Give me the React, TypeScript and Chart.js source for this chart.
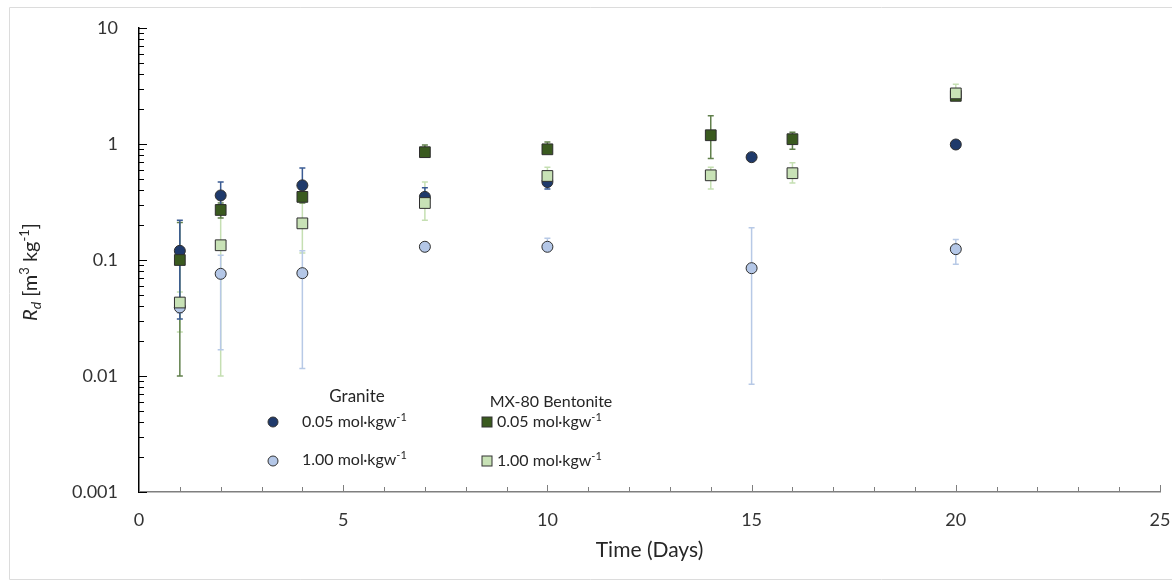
import React, { useEffect, useRef } from "react";
import { Chart, registerables } from "chart.js";

Chart.register(...registerables);

// ---------- data ----------
const graniteDays = [1, 2, 4, 7, 10, 15, 20];
const bentoniteDays = [1, 2, 4, 7, 10, 14, 16, 20];

const granite005 = [0.12, 0.36, 0.44, 0.35, 0.47, 0.77, 0.99];
const granite005Low = [0.031, 0.3, 0.38, 0.29, 0.41, 0.74, 0.95];
const granite005High = [0.22, 0.47, 0.62, 0.42, 0.53, 0.8, 1.04];

const granite100 = [0.039, 0.076, 0.077, 0.13, 0.13, 0.085, 0.124];
const granite100Low = [0.035, 0.0168, 0.0116, 0.12, 0.125, 0.0085, 0.092];
const granite100High = [0.044, 0.11, 0.12, 0.14, 0.154, 0.19, 0.15];

const bentonite005 = [0.1, 0.27, 0.35, 0.85, 0.9, 1.19, 1.1, 2.6];
const bentonite005Low = [0.01, 0.23, 0.31, 0.78, 0.84, 0.75, 0.9, 2.4];
const bentonite005High = [0.21, 0.31, 0.39, 0.98, 1.04, 1.75, 1.26, 2.8];

const bentonite100 = [0.043, 0.134, 0.207, 0.31, 0.53, 0.537, 0.56, 2.73];
const bentonite100Low = [0.024, 0.01, 0.115, 0.22, 0.44, 0.41, 0.46, 2.4];
const bentonite100High = [0.053, 0.25, 0.33, 0.47, 0.63, 0.63, 0.69, 3.27];

const yTickValues = [0.001, 0.01, 0.1, 1, 10];
const xMin = 0;
const xMax = 25;

const seriesLabels = ["0.05 mol·kgw", "1.00 mol·kgw"];
const groupLabels = ["Granite", "MX-80 Bentonite"];

// ---------- styles ----------
const FONT = "Lato, 'Open Sans', sans-serif";
const DARK_BLUE = "#1f3a6b";
const LIGHT_BLUE = "#b4c7e7";
const DARK_GREEN = "#3a5a1f";
const LIGHT_GREEN = "#c8e2b6";

type Seg = { t: string; size: number; italic?: boolean; dy?: number };

function drawRich(ctx: CanvasRenderingContext2D, segs: Seg[], x: number, y: number, align: "left" | "center") {
  let total = 0;
  const widths = segs.map((s) => {
    ctx.font = `${s.italic ? "italic " : ""}${s.size}px ${FONT}`;
    const w = ctx.measureText(s.t).width;
    total += w;
    return w;
  });
  let cx = align === "center" ? x - total / 2 : x;
  ctx.textAlign = "left";
  ctx.textBaseline = "alphabetic";
  segs.forEach((s, i) => {
    ctx.font = `${s.italic ? "italic " : ""}${s.size}px ${FONT}`;
    ctx.fillText(s.t, cx, y + (s.dy || 0));
    cx += widths[i];
  });
}

const toPoints = (days: number[], vals: number[]) => days.map((d, i) => ({ x: d, y: vals[i] }));

const errorBarPlugin = {
  id: "errorBars",
  beforeDatasetsDraw(chart: any) {
    const { ctx, scales } = chart;
    const xs = scales.x;
    const ys = scales.y;
    ctx.save();
    chart.data.datasets.forEach((ds: any) => {
      ctx.strokeStyle = ds.errColor;
      ctx.lineWidth = 1.5;
      ds.data.forEach((p: any, i: number) => {
        const px = xs.getPixelForValue(p.x);
        const y1 = ys.getPixelForValue(ds.errLow[i]);
        const y2 = ys.getPixelForValue(ds.errHigh[i]);
        ctx.beginPath();
        ctx.moveTo(px, y1);
        ctx.lineTo(px, y2);
        ctx.moveTo(px - 3, y1);
        ctx.lineTo(px + 3, y1);
        ctx.moveTo(px - 3, y2);
        ctx.lineTo(px + 3, y2);
        ctx.stroke();
      });
    });
    ctx.restore();
  },
  afterDraw(chart: any) {
    const { ctx, scales, chartArea } = chart;
    const xs = scales.x;
    const ys = scales.y;
    ctx.save();
    // outer frame
    ctx.strokeStyle = "#dcdcdc";
    ctx.lineWidth = 1;
    ctx.beginPath();
    ctx.moveTo(1172, 7.5);
    ctx.lineTo(9.5, 7.5);
    ctx.lineTo(9.5, 579.5);
    ctx.lineTo(1172, 579.5);
    ctx.stroke();

    // x ticks (inward)
    ctx.strokeStyle = "#7f7f7f";
    ctx.lineWidth = 1;
    for (let d = xMin; d <= xMax; d++) {
      const px = Math.round(xs.getPixelForValue(d)) + 0.5;
      const len = d % 5 === 0 ? 7 : 5;
      ctx.beginPath();
      ctx.moveTo(px, chartArea.bottom);
      ctx.lineTo(px, chartArea.bottom - len);
      ctx.stroke();
    }
    // y ticks (inward)
    ctx.strokeStyle = "#000";
    for (let k = 0; k < yTickValues.length; k++) {
      const dec = yTickValues[k];
      const py = Math.round(ys.getPixelForValue(dec)) + 0.5;
      ctx.beginPath();
      ctx.moveTo(chartArea.left, py);
      ctx.lineTo(chartArea.left + 8, py);
      ctx.stroke();
      if (k < yTickValues.length - 1) {
        for (let m = 2; m <= 9; m++) {
          const pm = Math.round(ys.getPixelForValue(dec * m)) + 0.5;
          ctx.beginPath();
          ctx.moveTo(chartArea.left, pm);
          ctx.lineTo(chartArea.left + 5, pm);
          ctx.stroke();
        }
      }
    }

    // y title
    ctx.fillStyle = "#262626";
    ctx.save();
    ctx.translate(37, 272);
    ctx.rotate(-Math.PI / 2);
    drawRich(
      ctx,
      [
        { t: "R", size: 20, italic: true },
        { t: "d", size: 14, italic: true, dy: 4 },
        { t: " [m", size: 20 },
        { t: "3", size: 13, dy: -8 },
        { t: " kg", size: 20 },
        { t: "-1", size: 13, dy: -8 },
        { t: "]", size: 20 },
      ],
      0,
      0,
      "center"
    );
    ctx.restore();

    // legend
    ctx.fillStyle = "#262626";
    drawRich(ctx, [{ t: groupLabels[0], size: 17 }], 357, 402, "center");
    drawRich(ctx, [{ t: groupLabels[1], size: 16 }], 551, 407, "center");

    const circle = (x: number, y: number, fill: string) => {
      ctx.beginPath();
      ctx.arc(x, y, 5, 0, Math.PI * 2);
      ctx.fillStyle = fill;
      ctx.fill();
      ctx.strokeStyle = "#333";
      ctx.lineWidth = 1;
      ctx.stroke();
    };
    const square = (x: number, y: number, fill: string) => {
      ctx.fillStyle = fill;
      ctx.fillRect(x - 5, y - 5, 10, 10);
      ctx.strokeStyle = "#333";
      ctx.lineWidth = 1;
      ctx.strokeRect(x - 5, y - 5, 10, 10);
    };
    circle(273, 422, DARK_BLUE);
    circle(273, 461, LIGHT_BLUE);
    square(487, 422, DARK_GREEN);
    square(487, 461, LIGHT_GREEN);

    ctx.fillStyle = "#262626";
    const lbl = (txt: string, x: number, y: number) =>
      drawRich(ctx, [{ t: txt, size: 16 }, { t: "-1", size: 11, dy: -6 }], x, y, "left");
    lbl(seriesLabels[0], 302, 427);
    lbl(seriesLabels[1], 302, 465);
    lbl(seriesLabels[0], 497, 427);
    lbl(seriesLabels[1], 497, 466);

    ctx.restore();
  },
};

export default function App() {
  const ref = useRef<HTMLCanvasElement>(null);

  useEffect(() => {
    if (!ref.current) return;
    const mk = (label: string, days: number[], vals: number[], lo: number[], hi: number[], fill: string, errColor: string, style: string, r: number) => ({
      label,
      data: toPoints(days, vals),
      errLow: lo,
      errHigh: hi,
      errColor,
      pointStyle: style,
      pointRadius: r,
      pointBackgroundColor: fill,
      pointBorderColor: "#2e2e2e",
      pointBorderWidth: 1,
      showLine: false,
    });
    const chart = new Chart(ref.current, {
      type: "scatter",
      data: {
        datasets: [
          mk("MX-80 Bentonite 1.00", bentoniteDays, bentonite100, bentonite100Low, bentonite100High, LIGHT_GREEN, "#c5dfb2", "rect", 7.6),
          mk("MX-80 Bentonite 0.05", bentoniteDays, bentonite005, bentonite005Low, bentonite005High, DARK_GREEN, "#61804c", "rect", 7.6),
          mk("Granite 1.00", graniteDays, granite100, granite100Low, granite100High, LIGHT_BLUE, "#b7c9e6", "circle", 5.5),
          mk("Granite 0.05", graniteDays, granite005, granite005Low, granite005High, DARK_BLUE, "#3a5b93", "circle", 5.5),
        ] as any,
      },
      options: {
        responsive: false,
        animation: false,
        events: [],
        layout: { padding: { top: 28, right: 12, left: 0, bottom: 18 } },
        plugins: { legend: { display: false }, tooltip: { enabled: false } },
        scales: {
          x: {
            type: "linear",
            min: xMin,
            max: xMax,
            grid: { display: false, drawTicks: false },
            border: { display: true, color: "#7f7f7f", width: 1.5 },
            ticks: { stepSize: 5, padding: 17, color: "#333", font: { family: FONT, size: 18 } },
            title: { display: true, text: "Time (Days)", color: "#262626", font: { family: FONT, size: 21 }, padding: { top: 4, bottom: 0 } },
            afterFit: (s: any) => {
              s.height = 71;
              s.paddingLeft = 0;
              s.paddingRight = 0;
            },
          },
          y: {
            type: "logarithmic",
            min: yTickValues[0],
            max: yTickValues[yTickValues.length - 1],
            grid: { display: false, drawTicks: false },
            border: { display: true, color: "#000", width: 1.5 },
            afterBuildTicks: (s: any) => {
              s.ticks = yTickValues.map((v) => ({ value: v }));
            },
            ticks: {
              autoSkip: false,
              padding: 21,
              color: "#333",
              font: { family: FONT, size: 18 },
              callback: (v: any) => {
                const e = Math.round(Math.log10(Number(v)));
                return e >= 0 ? String(Math.pow(10, e)) : Math.pow(10, e).toFixed(-e);
              },
            },
            afterFit: (s: any) => {
              s.width = 139;
              s.paddingTop = 0;
              s.paddingBottom = 0;
            },
          },
        },
      },
      plugins: [errorBarPlugin],
    } as any);
    return () => chart.destroy();
  }, []);

  return (
    <div style={{ position: "fixed", left: 0, top: 0, width: 1172, height: 581, background: "#fff" }}>
      <canvas ref={ref} width={1172} height={581} />
    </div>
  );
}
